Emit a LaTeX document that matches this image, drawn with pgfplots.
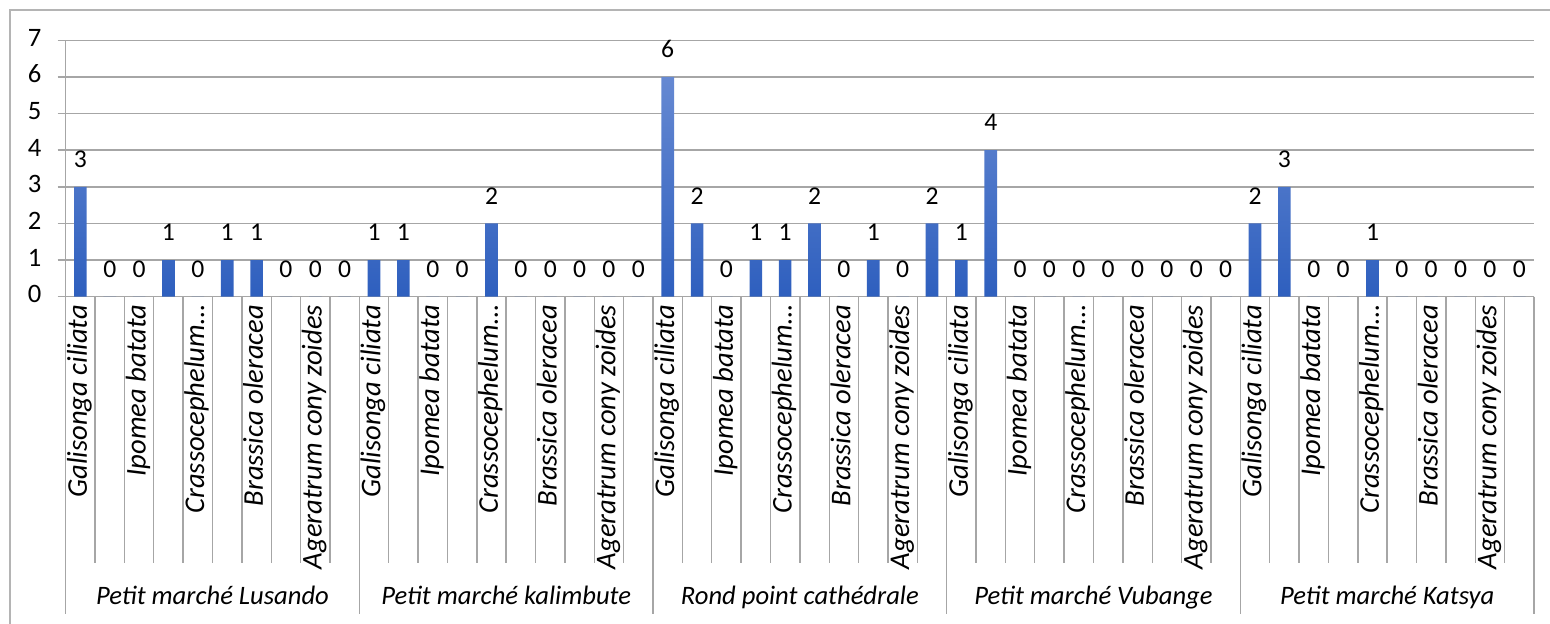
\documentclass[border=0pt]{standalone}
\usepackage{fontspec}
\setmainfont{Carlito}
\usepackage{pgfplots}
\usepackage{pgfplotstable}
\pgfplotsset{compat=1.18}

\definecolor{barTop}{HTML}{6689D2}
\definecolor{barBot}{HTML}{2E5FBE}
\definecolor{gridcol}{HTML}{A6A6A6}
\definecolor{framecol}{HTML}{B4B4B4}

% Counts per species, five markets in a row (10 species each)
\pgfplotstableread{
x y
1 3
2 0
3 0
4 1
5 0
6 1
7 1
8 0
9 0
10 0
11 1
12 1
13 0
14 0
15 2
16 0
17 0
18 0
19 0
20 0
21 6
22 2
23 0
24 1
25 1
26 2
27 0
28 1
29 0
30 2
31 1
32 4
33 0
34 0
35 0
36 0
37 0
38 0
39 0
40 0
41 2
42 3
43 0
44 0
45 1
46 0
47 0
48 0
49 0
50 0
}\counts

\newcommand{\spp}{Galisonga ciliata,Ipomea batata,Crassocephelum…,Brassica oleracea,Ageratrum cony zoides}

\begin{document}
\begin{tikzpicture}
\path[use as bounding box] (-32.85pt,-163.65pt) rectangle (742.15pt,148.35pt);
\draw[framecol, line width=0.8pt] (-27.85pt,-170pt) -- (-27.85pt,143.35pt) -- (760pt,143.35pt);
\begin{axis}[
  at={(0,0)}, anchor=south west,
  scale only axis,
  width=734.15pt, height=128.2pt,
  xmin=0.5, xmax=50.5, ymin=0, ymax=7,
  axis lines*=left,
  axis line style={gridcol, line width=0.7pt},
  ymajorgrids,
  grid style={gridcol, line width=0.7pt},
  ytick={0,...,7},
  ytick style={gridcol, line width=0.7pt},
  tick align=outside,
  major tick length=4pt,
  yticklabel style={anchor=east, inner sep=0pt, xshift=-8pt},
  xtick={1,3,...,49},
  xticklabels/.expanded={\spp,\spp,\spp,\spp,\spp},
  xtick style={draw=none},
  xticklabel style={rotate=90, anchor=east, inner sep=0pt, yshift=0pt,
    font=\fontsize{14.3}{16}\selectfont\itshape},
  typeset ticklabels with strut,
  tick label style={font=\fontsize{13.3}{15}\selectfont},
  /pgf/number format/assume math mode=true,
  clip=false,
  ybar, bar width=6.3pt,
  nodes near coords,
  nodes near coords style={anchor=south, inner sep=0pt, yshift=9.5pt,
    font=\fontsize{12.8}{14}\selectfont, text=black},
]
\addplot[draw=none, top color=barTop, bottom color=barBot] table[x=x, y=y] {\counts};

% category separators below the axis
\pgfplotsinvokeforeach{0,...,50}{
  \draw[gridcol, line width=0.7pt] (axis cs:#1.5,0) -- ++(0pt,-133.2pt);
}
% market separators
\pgfplotsinvokeforeach{0,10,20,30,40,50}{
  \draw[gridcol, line width=0.7pt] (axis cs:#1.5,0) -- ++(0pt,-158.6pt);
}
% market names
\begin{scope}[every node/.style={anchor=base, font=\fontsize{13.3}{15}\selectfont\itshape, yshift=-154pt}]
\node at (axis cs:5.5,0) {Petit marché Lusando};
\node at (axis cs:15.5,0) {Petit marché kalimbute};
\node at (axis cs:25.5,0) {Rond point cathédrale};
\node at (axis cs:35.5,0) {Petit marché Vubange};
\node at (axis cs:45.5,0) {Petit marché Katsya};
\end{scope}
\end{axis}
\end{tikzpicture}
\end{document}
